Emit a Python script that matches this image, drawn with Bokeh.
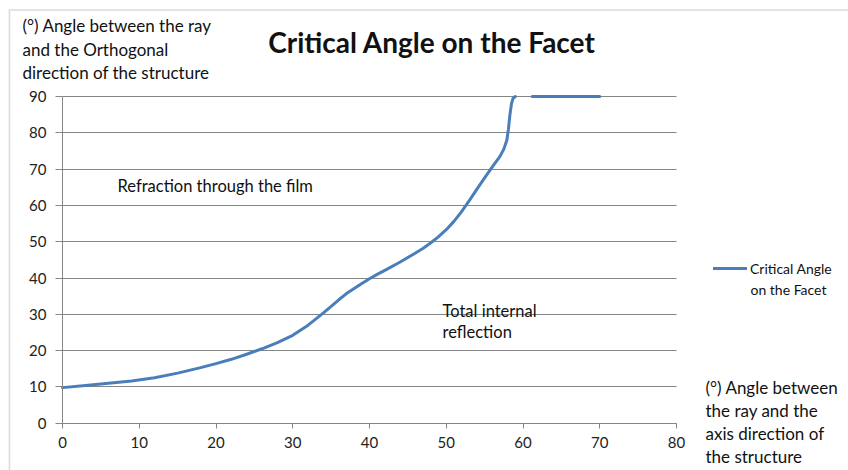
import numpy as np
from bokeh.plotting import figure
from bokeh.models import (Label, Legend, LegendItem, FixedTicker, Range1d,
                          BoxAnnotation)
from bokeh.embed import file_html
from bokeh.resources import INLINE

# ---- data ----
x_angle = [0, 3, 6, 9, 12, 15, 18, 20, 22, 24, 26, 28, 30, 32, 34, 36, 37, 38, 39,
           40, 41, 42, 44, 46, 47, 48, 49, 50, 51, 52, 53, 54, 55, 56, 57, 57.5,
           57.9, 58.1, 58.3, 58.5, 58.7, 59.0, np.nan, 61.2, 70]
y_critical = [9.8, 10.4, 11.0, 11.6, 12.5, 13.8, 15.3, 16.4, 17.6, 19.0, 20.5, 22.2,
              24.2, 27.0, 30.4, 34.0, 35.7, 37.1, 38.5, 39.8, 41.0, 42.1, 44.4, 46.9,
              48.2, 49.7, 51.4, 53.3, 55.6, 58.3, 61.3, 64.5, 67.6, 70.6, 73.5, 75.5,
              78.0, 81.0, 85.0, 88.0, 89.5, 90.0, np.nan, 90.0, 90.0]
x_ticks = [0, 10, 20, 30, 40, 50, 60, 70, 80]
y_ticks = [0, 10, 20, 30, 40, 50, 60, 70, 80, 90]

FONT = "Lato"
LINE_COLOR = "#4A7EBB"
GRID = "#868686"
TXT = "#111111"

W, H = 848, 470
PX_X0, PX_X80 = 62.0, 676.0          # pixel positions of x=0 and x=80
PX_Y0, PX_Y90 = 422.7, 96.0          # pixel positions of y=0 and y=90
sx = (PX_X80 - PX_X0) / 80.0
sy = (PX_Y0 - PX_Y90) / 90.0

p = figure(width=W, height=H, output_backend="svg", toolbar_location=None,
           x_range=Range1d(-PX_X0 / sx, 80 + (W - PX_X80) / sx),
           y_range=Range1d(-(H - PX_Y0) / sy, 90 + PX_Y90 / sy),
           min_border=0)
p.outline_line_color = None
p.background_fill_color = "white"
p.border_fill_color = "white"

# chart-area border (top and left edges visible)
p.add_layout(BoxAnnotation(left=-(PX_X0 - 9) / sx, top=90 + (PX_Y90 - 9.5) / sy,
                           right=200, bottom=-100, fill_alpha=0,
                           line_color="#8c8c8c", line_width=1.6))

# grid lines spanning only the data area
p.xgrid.grid_line_color = None
p.ygrid.grid_line_color = GRID
p.ygrid.ticker = FixedTicker(ticks=y_ticks)
p.ygrid.bounds = (0, 90)
p.ygrid.cross_bounds = (0, 80)

r = p.line(x_angle, y_critical, line_color=LINE_COLOR, line_width=3,
           line_join="round", line_cap="round")

for ax in (p.xaxis[0], p.yaxis[0]):
    ax.fixed_location = 0
    ax.axis_line_color = GRID
    ax.major_tick_line_color = GRID
    ax.minor_tick_line_color = None
    ax.major_label_text_font = FONT
    ax.major_label_text_font_size = "15px"
    ax.major_label_text_color = "#222222"
p.xaxis.ticker = FixedTicker(ticks=x_ticks)
p.yaxis.ticker = FixedTicker(ticks=y_ticks)
p.xaxis.bounds = (0, 80)
p.yaxis.bounds = (0, 90)
p.xaxis.major_tick_out = 5
p.xaxis.major_tick_in = 0
p.yaxis.major_tick_out = 7
p.yaxis.major_tick_in = 0
p.xaxis.major_label_standoff = 9
p.yaxis.major_label_standoff = 9


def lab(px, py, t, size="17px", bold=False, align="left"):
    p.add_layout(Label(x=(px - PX_X0) / sx, y=(PX_Y0 - py) / sy, text=t,
                       text_font=FONT, text_font_size=size,
                       text_font_style="bold" if bold else "normal",
                       text_align=align, text_baseline="middle", text_color=TXT))

# title
lab(431.5, 41, "Critical Angle on the Facet", size="28px", bold=True, align="center")
# y title
lab(22, 25, "(°) Angle between the ray")
lab(22, 49, "and the Orthogonal")
lab(22, 72, "direction of the structure")
# region annotations
lab(117, 185, "Refraction through the film", size="16.5px")
lab(442, 310, "Total internal", size="16.5px")
lab(442, 331, "reflection", size="16.5px")
# x title
lab(705, 387, "(°) Angle between")
lab(705, 410, "the ray and the")
lab(705, 433, "axis direction of")
lab(705, 456, "the structure")

# legend
legend = Legend(items=[LegendItem(label="Critical Angle", renderers=[r])],
                location=(713, H - 278), margin=0, padding=0, border_line_color=None,
                background_fill_alpha=0, glyph_width=34, glyph_height=20,
                label_height=20, label_standoff=3, label_text_font=FONT,
                label_text_font_size="14px", label_text_color=TXT)
p.add_layout(legend)
lab(750, 289, "on the Facet", size="14px")

open("out.html", "w").write(file_html(p, INLINE))
